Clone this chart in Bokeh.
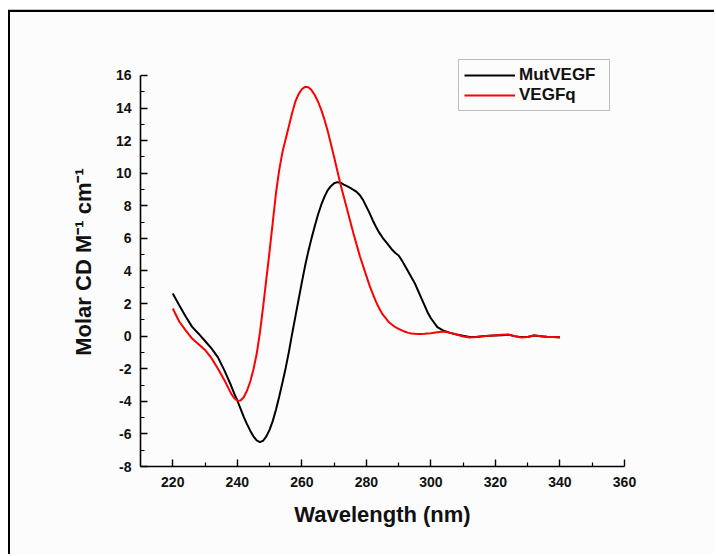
from bokeh.plotting import figure
from bokeh.models import Range1d, FixedTicker, Legend, LegendItem
from bokeh.embed import file_html
from bokeh.resources import INLINE

# Data: wavelength (nm) and molar CD
mut_x = [220, 222, 224, 226, 228, 230, 232, 234,
         236, 237, 238, 239, 240, 241, 242, 243, 244, 245, 246, 247, 248, 249, 250,
         251, 252, 253, 254, 255, 256, 257, 258, 259, 260, 261, 262, 263, 264, 265,
         266, 267, 268, 269, 270, 271, 272, 273, 274, 275, 276, 277, 278, 279, 280,
         281, 282, 283, 284, 285, 286, 287, 288, 289, 290, 291, 292, 293, 294, 295,
         296, 297, 298, 299, 300,
         302, 304, 306, 308, 310, 312, 314, 316, 318, 320, 322, 324, 326, 328, 330,
         332, 334, 336, 338, 340]
mut_y = [2.62, 1.9, 1.2, 0.57, 0.15, -0.3, -0.75, -1.3,
         -2.1, -2.55, -3.0, -3.5, -3.95, -4.45, -4.95, -5.4, -5.8, -6.15, -6.4, -6.5, -6.42, -6.15, -5.75,
         -5.2, -4.5, -3.7, -2.85, -1.95, -0.95, 0.15, 1.2, 2.25, 3.3, 4.3, 5.2, 6.0, 6.75, 7.45,
         8.05, 8.55, 8.95, 9.2, 9.38, 9.45, 9.42, 9.3, 9.2, 9.1, 8.98, 8.85, 8.65, 8.35, 7.95,
         7.55, 7.1, 6.7, 6.35, 6.05, 5.8, 5.55, 5.3, 5.1, 4.95, 4.65, 4.3, 3.95, 3.6, 3.25,
         2.8, 2.35, 1.9, 1.45, 1.1,
         0.55, 0.33, 0.2, 0.1, 0.02, -0.05, -0.05, 0.0, 0.02, 0.04, 0.06, 0.08, 0.0, -0.06, -0.05,
         0.04, 0.0, -0.04, -0.05, -0.07]

vegfq_x = [220, 222, 224, 226, 228, 230, 232, 234,
           236, 237, 238, 239, 240, 241, 242, 243, 244, 245, 246, 247, 248, 249, 250,
           251, 252, 253, 254, 255, 256, 257, 258, 259, 260, 261, 262, 263, 264, 265,
           266, 267, 268, 269, 270, 271, 272, 273, 274, 275, 276, 277, 278, 279, 280,
           281, 282, 283, 284, 285, 286, 287, 288, 289, 290, 291, 292, 293, 294, 295,
           296, 297, 298, 299, 300,
           302, 304, 306, 308, 310, 312, 314, 316, 318, 320, 322, 324, 326, 328, 330,
           332, 334, 336, 338, 340]
vegfq_y = [1.7, 0.9, 0.35, -0.15, -0.5, -0.85, -1.35, -2.0,
           -2.7, -3.1, -3.5, -3.8, -3.97, -3.95, -3.75, -3.35, -2.8, -2.05, -1.1, 0.2, 1.8, 3.5, 5.2,
           7.0, 8.8, 10.2, 11.3, 12.1, 12.9, 13.7, 14.4, 14.85, 15.15, 15.3, 15.28, 15.1, 14.8, 14.4,
           13.9, 13.3, 12.6, 11.8, 11.0, 10.15, 9.3, 8.55, 7.8, 7.05, 6.3, 5.6, 4.9, 4.3, 3.7,
           3.1, 2.6, 2.1, 1.7, 1.35, 1.1, 0.85, 0.7, 0.55, 0.45, 0.35, 0.27, 0.2, 0.16, 0.14,
           0.13, 0.13, 0.14, 0.16, 0.18,
           0.24, 0.28, 0.2, 0.1, -0.02, -0.08, -0.05, 0.0, 0.02, 0.05, 0.08, 0.1, 0.0, -0.08, -0.05,
           0.05, 0.0, -0.05, -0.06, -0.08]

x_ticks = [220, 240, 260, 280, 300, 320, 340, 360]
x_minor = [230, 250, 270, 290, 310, 330, 350]
y_ticks = [-8, -6, -4, -2, 0, 2, 4, 6, 8, 10, 12, 14, 16]
y_minor = [-7, -5, -3, -1, 1, 3, 5, 7, 9, 11, 13, 15]

FONT = "Liberation Sans"
BG = "#fcfcfc"

p = figure(width=706, height=544, output_backend="svg", toolbar_location=None,
           x_range=Range1d(210, 360), y_range=Range1d(-8, 17.1),
           min_border_left=130, min_border_right=92, min_border_top=45, min_border_bottom=90,
           background_fill_color=BG, border_fill_color=BG)
p.outline_line_color = None
p.xgrid.grid_line_color = None
p.ygrid.grid_line_color = None
p.styles = {"margin-left": "8px", "margin-top": "10px",
            "border-left": "2px solid black", "border-top": "2px solid black",
            "box-shadow": "0 -1px 0 0 #c4c4c4"}

r1 = p.line(mut_x, mut_y, line_color="#000000", line_width=2)
r2 = p.line(vegfq_x, vegfq_y, line_color="#ff0000", line_width=2)

for ax, ticks, minor in ((p.xaxis[0], x_ticks, x_minor), (p.yaxis[0], y_ticks, y_minor)):
    ax.ticker = FixedTicker(ticks=ticks, minor_ticks=minor)
    ax.major_label_overrides = {t: str(t) for t in ticks}
    ax.axis_line_width = 1.6
    ax.axis_line_color = "#000000"
    ax.major_tick_line_color = "#000000"
    ax.minor_tick_line_color = "#000000"
    ax.major_tick_line_width = 1.4
    ax.minor_tick_line_width = 1.2
    ax.major_tick_in = 7
    ax.major_tick_out = 0
    ax.minor_tick_in = 4
    ax.minor_tick_out = 0
    ax.major_label_text_font = FONT
    ax.major_label_text_font_style = "bold"
    ax.major_label_text_font_size = "14px"
    ax.major_label_text_color = "#111111"
    ax.axis_label_text_font = FONT
    ax.axis_label_text_font_style = "bold"
    ax.axis_label_text_font_size = "22px"
    ax.axis_label_text_color = "#111111"

p.yaxis[0].bounds = (-8, 16)
p.xaxis[0].axis_label = "Wavelength (nm)"
p.xaxis[0].major_label_standoff = 10
p.xaxis[0].axis_label_standoff = 12
p.yaxis[0].axis_label = "Molar CD M\u207b\u00b9 cm\u207b\u00b9"
p.yaxis[0].major_label_standoff = 9
p.yaxis[0].axis_label_standoff = 17

legend = Legend(items=[LegendItem(label="MutVEGF", renderers=[r1]),
                       LegendItem(label="VEGFq", renderers=[r2])],
                location=(318, 355), orientation="vertical")
legend.label_text_font = FONT
legend.label_text_font_style = "bold"
legend.label_text_font_size = "17px"
legend.label_text_color = "#111111"
legend.glyph_width = 51
legend.glyph_height = 20
legend.label_height = 20
legend.label_width = 85
legend.label_standoff = 4
legend.padding = 5
legend.spacing = 0
legend.margin = 0
legend.border_line_color = "#808080"
legend.border_line_width = 1.5
legend.background_fill_color = BG
legend.background_fill_alpha = 1.0
p.add_layout(legend, "center")

open("out.html", "w").write(file_html(p, INLINE))
